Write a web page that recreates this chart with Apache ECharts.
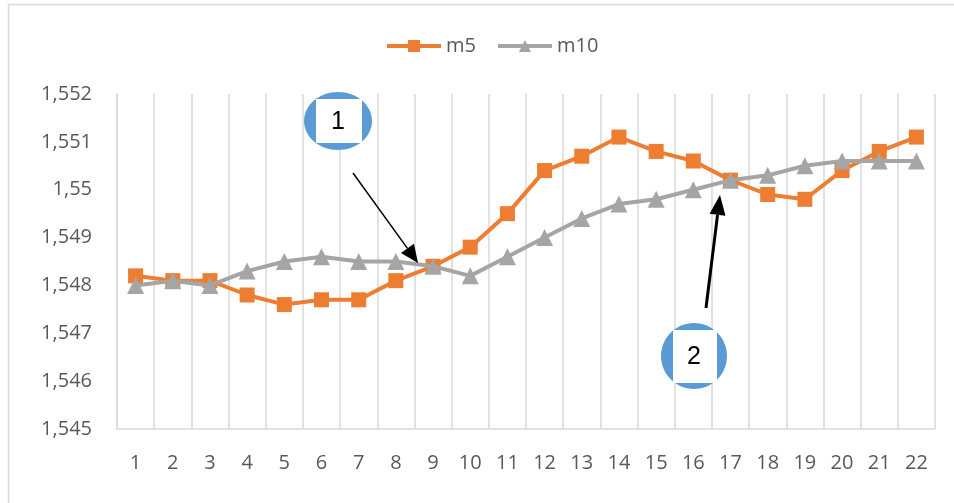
<!DOCTYPE html>
<html>
<head>
<meta charset="utf-8">
<script src="https://cdn.jsdelivr.net/npm/echarts@6/dist/echarts.min.js"></script>
<style>
  html, body { margin: 0; padding: 0; background: #ffffff; }
  #chart { width: 954px; height: 503px; }
</style>
</head>
<body>
<div id="chart"></div>
<script>
// Moving averages m5 / m10 over 22 periods
const categories = ['1','2','3','4','5','6','7','8','9','10','11','12','13','14','15','16','17','18','19','20','21','22'];
const m5 = [1.5482, 1.5481, 1.5481, 1.5478, 1.5476, 1.5477, 1.5477, 1.5481, 1.5484, 1.5488, 1.5495,
            1.5504, 1.5507, 1.5511, 1.5508, 1.5506, 1.5502, 1.5499, 1.5498, 1.5504, 1.5508, 1.5511];
const m10 = [1.5480, 1.5481, 1.5480, 1.5483, 1.5485, 1.5486, 1.5485, 1.5485, 1.5484, 1.5482, 1.5486,
             1.5490, 1.5494, 1.5497, 1.5498, 1.5500, 1.5502, 1.5503, 1.5505, 1.5506, 1.5506, 1.5506];
const yTicks = { min: 1.545, max: 1.552, step: 0.001 };

const chart = echarts.init(document.getElementById('chart'), null, { renderer: 'canvas' });

const FONT = '"Open Sans", sans-serif';
const ORANGE = '#ED7D31';
const GRAY = '#A5A5A5';

// Arrow: shaft line plus a filled triangular head at the tip
function arrow(x1, y1, x2, y2, width, headLen, headHalf) {
  const dx = x2 - x1, dy = y2 - y1;
  const len = Math.sqrt(dx * dx + dy * dy);
  const ux = dx / len, uy = dy / len;
  const bx = x2 - ux * headLen, by = y2 - uy * headLen;
  const px = -uy, py = ux;
  return [
    { type: 'line', z: 100, shape: { x1: x1, y1: y1, x2: bx, y2: by },
      style: { stroke: '#000', lineWidth: width } },
    { type: 'polygon', z: 100,
      shape: { points: [[x2, y2], [bx + px * headHalf, by + py * headHalf], [bx - px * headHalf, by - py * headHalf]] },
      style: { fill: '#000' } }
  ];
}

// Numbered callout: blue ellipse behind a white text box
function callout(cx, cy, rx, ry, bx, by, bw, bh, label) {
  return [
    { type: 'ellipse', z: 100, shape: { cx: cx, cy: cy, rx: rx, ry: ry }, style: { fill: '#5B9BD5' } },
    { type: 'rect', z: 101, shape: { x: bx, y: by, width: bw, height: bh }, style: { fill: '#ffffff' } },
    { type: 'text', z: 102, x: cx, y: cy + 1,
      style: { text: label, fill: '#000', font: '25px "Liberation Sans", Arial, sans-serif',
               align: 'center', verticalAlign: 'middle' } }
  ];
}

const option = {
  animation: false,
  backgroundColor: '#ffffff',
  legend: {
    top: 31,
    left: 380,
    itemWidth: 54,
    itemHeight: 15,
    itemGap: 20,
    lineStyle: { width: 4 },
    textStyle: { fontFamily: FONT, fontSize: 20, color: '#595959' },
    data: ['m5', 'm10']
  },
  grid: { left: 117, right: 19, top: 94, bottom: 74, containLabel: false },
  xAxis: {
    type: 'category',
    data: categories,
    boundaryGap: true,
    axisLine: { show: true, lineStyle: { color: '#D9D9D9', width: 1.5 } },
    axisTick: { show: false },
    splitLine: { show: true, interval: 0, lineStyle: { color: '#D9D9D9', width: 1.5 } },
    axisLabel: { interval: 0, margin: 24, fontFamily: FONT, fontSize: 20, color: '#595959' }
  },
  yAxis: {
    type: 'value',
    min: yTicks.min,
    max: yTicks.max,
    interval: yTicks.step,
    axisLine: { show: true, lineStyle: { color: '#D9D9D9', width: 1.5 } },
    axisTick: { show: false },
    splitLine: { show: false },
    axisLabel: {
      margin: 25, fontFamily: FONT, fontSize: 20, color: '#595959',
      formatter: function (v) { return String(Number(v.toFixed(3))).replace('.', ','); }
    }
  },
  series: [
    {
      name: 'm5', type: 'line', data: m5,
      symbol: 'rect', symbolSize: 15,
      lineStyle: { color: ORANGE, width: 4 },
      itemStyle: { color: ORANGE },
      z: 3
    },
    {
      name: 'm10', type: 'line', data: m10,
      symbol: 'triangle', symbolSize: 17,
      lineStyle: { color: GRAY, width: 4 },
      itemStyle: { color: GRAY },
      z: 4
    }
  ],
  graphic: [
    // outer frame of the chart area
    { type: 'rect', z: 0, silent: true, shape: { x: 8.5, y: 4.5, width: 960, height: 520 },
      style: { fill: 'none', stroke: '#D9D9D9', lineWidth: 1.5 } }
  ]
    .concat(arrow(353, 173, 418, 263, 1.5, 18, 8))
    .concat(arrow(706, 308, 720, 195, 3, 20, 8))
    .concat(callout(338, 121, 34, 29, 316, 99, 46, 44, '1'))
    .concat(callout(694, 356, 33, 33, 673, 330, 44, 53, '2'))
};

chart.setOption(option);
</script>
</body>
</html>
